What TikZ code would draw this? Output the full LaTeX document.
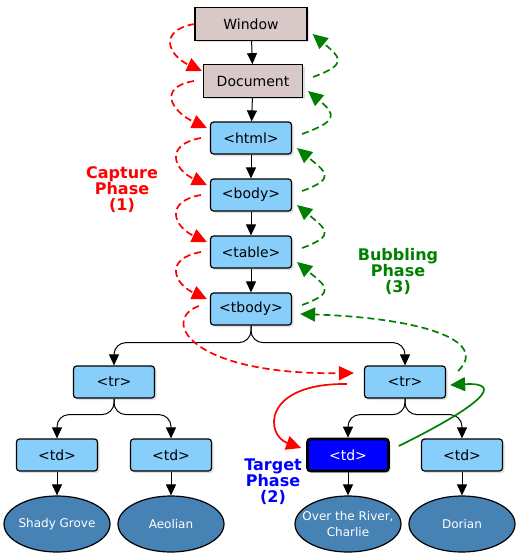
\documentclass[tikz,border=0pt]{standalone}
\usepackage{fontspec}
\setmainfont{DejaVu Sans}
\usetikzlibrary{positioning, arrows.meta, shapes.geometric, shadows}

\definecolor{elemblue}{RGB}{135,206,250}
\definecolor{winpink}{RGB}{217,200,200}
\definecolor{leafblue}{RGB}{70,130,180}
\definecolor{capred}{RGB}{255,0,0}
\definecolor{bubgreen}{RGB}{0,128,0}
\definecolor{tgtblue}{RGB}{0,0,255}

\tikzset{
  elem/.style={draw, line width=1.2pt, rounded corners=3pt, fill=elemblue,
    minimum width=81pt, minimum height=32pt, font=\fontsize{14}{16}\selectfont,
    drop shadow={shadow xshift=2pt, shadow yshift=-2pt, opacity=0.25}},
  winbox/.style={elem, rounded corners=0pt, fill=winpink, minimum height=32.5pt},
  target/.style={elem, fill=tgtblue, text=white, line width=2.6pt},
  leaf/.style={ellipse, draw, line width=1.2pt, fill=leafblue, text=white,
    minimum width=106pt, minimum height=56pt, inner xsep=-17pt, inner ysep=2pt,
    align=center, font=\fontsize{12}{15.5}\selectfont},
  phase/.style={align=center, font=\bfseries\fontsize{16}{16}\selectfont},
  capture/.style={capred, line width=1.7pt, dash pattern=on 7pt off 4pt,
    -{Triangle[length=15pt, width=14pt]}},
  bubble/.style={capture, bubgreen},
}

\begin{document}
\begin{tikzpicture}[x=1pt, y=1pt, node distance=57pt, on grid,
    >={Triangle[length=11pt, width=10pt]}, line width=1pt]
  \useasboundingbox (0,0) rectangle (520,-560);

  \node[winbox, minimum width=112pt] (window) at (251,-24) {Window};
  \node[winbox, minimum width=99pt] (document) [below=of window, xshift=2pt] {Document};
  \node[elem] (html)  [below=of document, xshift=-2pt] {<html>};
  \node[elem] (body)  [below=of html]  {<body>};
  \node[elem] (table) [below=of body]  {<table>};
  \node[elem] (tbody) [below=of table] {<tbody>};

  \node[elem] (tr_1) [below left=73pt and 137pt of tbody]  {<tr>};
  \node[elem] (tr_2) [below right=73pt and 154pt of tbody] {<tr>};

  \node[elem]   (td_1) [below left=73pt and 57pt of tr_1]  {<td>};
  \node[elem]   (td_2) [below right=73pt and 57pt of tr_1] {<td>};
  \node[target] (td_3) [below left=73pt and 57pt of tr_2]  {<td>};
  \node[elem]   (td_4) [below right=73pt and 57pt of tr_2] {<td>};

  \node[leaf] (v_1) [below=69pt of td_1] {Shady Grove};
  \node[leaf] (v_2) [below=69pt of td_2] {Aeolian};
  \node[leaf] (v_3) [below=69pt of td_3] {Over the River,\\Charlie};
  \node[leaf] (v_4) [below=69pt of td_4] {Dorian};

  % the tree
  \path[->]
    (window) edge (document)
    (document) edge (html)
    (html) edge (body)
    (body) edge (table)
    (table) edge (tbody)
    (td_1) edge (v_1)
    (td_2) edge (v_2)
    (td_3) edge (v_3)
    (td_4) edge (v_4)
    ;
  \draw[->, rounded corners=12pt] (tbody.south) -- ++(0,-17) -| (tr_1.north);
  \draw[->, rounded corners=12pt] (tbody.south) -- ++(0,-17) -| (tr_2.north);
  \foreach \p/\c in {tr_1/td_1, tr_1/td_2, tr_2/td_3, tr_2/td_4}
    \draw[->, rounded corners=12pt] (\p.south) -- ++(0,-16) -| (\c.north);

  % capture phase
  \draw[capture] (window.west) to[out=190, in=155, looseness=2] ([xshift=-1pt, yshift=10pt]document.west);
  \foreach \a/\b in {document/html, html/body, body/table, table/tbody}
    \draw[capture] ([xshift=-9pt]\a.west) to[out=190, in=155, looseness=2] ([xshift=-3pt, yshift=10pt]\b.west);
  \draw[capture] ([xshift=-11pt, yshift=3pt]tbody.west) .. controls (160,-320) and (190,-375) .. ([xshift=-10pt, yshift=9pt]tr_2.west);

  % target phase
  \draw[capture, solid] ([xshift=-17pt, yshift=-2pt]tr_2.west) .. controls (262,-383) and (265,-435) .. ([xshift=-5pt, yshift=7pt]td_3.west);
  \draw[bubble, solid] ([xshift=9pt, yshift=9pt]td_3.east) .. controls (482,-405) and (505,-382) .. ([xshift=4pt, yshift=-3pt]tr_2.east);

  % bubbling phase
  \draw[bubble] ([xshift=12pt, yshift=11pt]tr_2.east) .. controls (490,-340) and (420,-318) .. ([xshift=8pt, yshift=-5pt]tbody.east);
  \foreach \a/\b in {tbody/table, table/body, body/html, html/document, document/window}
    \draw[bubble] ([xshift=10pt, yshift=4pt]\a.east) to[out=20, in=-40, looseness=2.2] ([xshift=5pt, yshift=-10pt]\b.east);

  \node[phase, capred]   (cap) at (122,-190) {Capture\\Phase\\(1)};
  \node[phase, bubgreen] (bub) at (398,-271) {Bubbling\\Phase\\(3)};
  \node[phase, tgtblue]  (tgt) at (273,-482) {Target\\Phase\\(2)};
\end{tikzpicture}
\end{document}
